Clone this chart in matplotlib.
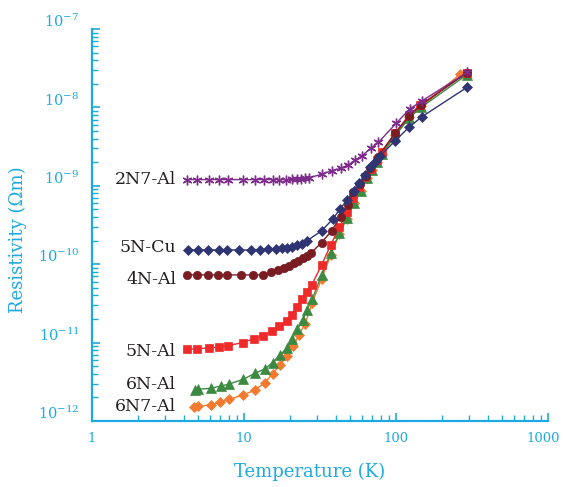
import matplotlib
matplotlib.use("Agg")
import matplotlib.pyplot as plt
import matplotlib.transforms as mtransforms
from matplotlib.ticker import LogLocator, NullFormatter

plt.rcParams['font.family'] = ['DejaVu Serif']
plt.rcParams['mathtext.fontset'] = 'dejavuserif'

# ---- data (temperature in K, resistivity in Ohm m) ----
T_2N7Al = [4.24, 4.88, 5.91, 6.88, 7.88, 9.8, 11.8, 13.6, 15.4, 17.1, 18.9, 20.6, 22.2, 23.6, 25.2, 26.9,
           32.4, 37.7, 43.4, 48.6, 53.7, 59.5, 68.5, 76.5, 100, 123, 148, 293]
R_2N7Al = [1.20e-9, 1.20e-9, 1.20e-9, 1.20e-9, 1.20e-9, 1.20e-9, 1.20e-9, 1.20e-9, 1.20e-9, 1.20e-9, 1.20e-9,
           1.21e-9, 1.22e-9, 1.23e-9, 1.25e-9, 1.27e-9,
           1.40e-9, 1.56e-9, 1.67e-9, 1.84e-9, 2.13e-9, 2.40e-9, 3.03e-9, 3.57e-9, 6.24e-9, 9.54e-9, 1.21e-8, 2.79e-8]

T_5NCu = [4.3, 5.0, 5.8, 6.8, 7.7, 9.3, 11.1, 12.7, 14.4, 16.2, 17.7, 19.1, 20.6, 22.2, 24.0, 25.9,
          32.4, 38.3, 42.8, 47.8, 52.9, 57.4, 62.5, 67.4, 72.8, 78.5, 98.5, 122, 148, 293]
R_5NCu = [1.52e-10, 1.52e-10, 1.52e-10, 1.52e-10, 1.52e-10, 1.52e-10, 1.52e-10, 1.53e-10, 1.54e-10, 1.56e-10,
          1.60e-10, 1.63e-10, 1.68e-10, 1.74e-10, 1.83e-10, 1.98e-10,
          2.67e-10, 3.74e-10, 5.06e-10, 6.59e-10, 8.6e-10, 1.08e-9, 1.37e-9, 1.72e-9, 2.03e-9, 2.40e-9,
          3.73e-9, 5.6e-9, 7.6e-9, 1.80e-8]

T_4NAl = [4.24, 4.93, 5.82, 6.77, 7.76, 9.5, 11.4, 13.3, 15.0, 16.8, 18.3, 19.9, 21.3, 22.8, 24.3, 25.9, 27.5,
          32.4, 37.7, 43.2, 48.6, 52.5, 57.8, 63.5, 67.4, 76.0, 98.5, 122, 146, 292]
R_4NAl = [7.3e-11, 7.3e-11, 7.3e-11, 7.3e-11, 7.3e-11, 7.3e-11, 7.3e-11, 7.3e-11,
          7.88e-11, 8.43e-11, 9.02e-11, 9.57e-11, 1.03e-10, 1.10e-10, 1.19e-10, 1.28e-10, 1.38e-10,
          1.89e-10, 2.67e-10, 4.03e-10, 5.77e-10, 8.3e-10, 1.05e-9, 1.33e-9, 1.67e-9, 2.35e-9,
          4.68e-9, 7.7e-9, 1.07e-8, 2.76e-8]

T_5NAl = [4.2, 4.93, 5.87, 6.88, 7.79, 9.8, 11.6, 13.4, 15.3, 17.0, 19.1, 20.6, 22.4, 24.0, 25.9, 27.9,
          32.4, 37.2, 42.4, 47.6, 52.5, 57.5, 63.0, 68.4, 74.9, 80.7, 98.5, 122, 144, 291]
R_5NAl = [8.22e-12, 8.36e-12, 8.53e-12, 8.79e-12, 9.13e-12, 1.00e-11, 1.12e-11, 1.22e-11, 1.41e-11, 1.62e-11,
          1.87e-11, 2.28e-11, 2.84e-11, 3.58e-11, 4.40e-11, 5.43e-11,
          9.77e-11, 1.76e-10, 2.98e-10, 4.67e-10, 6.99e-10, 9.66e-10, 1.28e-9, 1.65e-9, 2.13e-9, 2.72e-9,
          4.68e-9, 8.0e-9, 1.07e-8, 2.77e-8]

T_6NAl = [4.76, 5.0, 6.03, 7.03, 7.96, 9.88, 11.8, 13.7, 15.4, 17.2, 19.2, 20.8, 22.4, 24.3, 25.9, 28.1,
          32.4, 37.2, 42.4, 47.3, 52.9, 58.5, 64.2, 69.2, 75.3, 81.0, 98.5, 122, 147, 291]
R_6NAl = [2.51e-12, 2.54e-12, 2.61e-12, 2.79e-12, 2.96e-12, 3.40e-12, 4.06e-12, 4.61e-12, 5.54e-12, 6.95e-12,
          8.46e-12, 1.12e-11, 1.48e-11, 1.92e-11, 2.61e-11, 3.57e-11,
          7.28e-11, 1.38e-10, 2.48e-10, 3.85e-10, 6.04e-10, 8.71e-10, 1.25e-9, 1.59e-9, 2.03e-9, 2.55e-9,
          4.31e-9, 7.33e-9, 1.01e-8, 2.59e-8]

T_6N7Al = [4.69, 5.0, 6.03, 6.95, 8.0, 9.88, 11.8, 13.7, 15.4, 17.2, 19.2, 21.1, 23.0, 25.2,
           28.1, 32.4, 37.2, 42.4, 47.3, 52.9, 58.5, 64.2, 69.2, 75.3, 81.0, 98.5, 122, 147, 265]
R_6N7Al = [1.50e-12, 1.55e-12, 1.60e-12, 1.76e-12, 1.89e-12, 2.15e-12, 2.48e-12, 3.08e-12, 3.97e-12, 5.18e-12,
           6.75e-12, 9.05e-12, 1.25e-11, 1.73e-11,
           3.2e-11, 6.5e-11, 1.3e-10, 2.4e-10, 3.8e-10, 6.0e-10, 8.7e-10, 1.25e-9, 1.6e-9, 2.0e-9, 2.55e-9,
           4.4e-9, 7.5e-9, 1.03e-8, 2.67e-8]

labels = ["2N7-Al", "5N-Cu", "4N-Al", "5N-Al", "6N-Al", "6N7-Al"]
label_y = [1.22e-9, 1.61e-10, 6.47e-11, 7.6e-12, 2.88e-12, 1.51e-12]
label_x = 3.57

x_ticks = [1, 10, 100, 1000]
x_ticklabels = ["1", "10", "100", "1000"]
y_ticks = [1e-12, 1e-11, 1e-10, 1e-9, 1e-8, 1e-7]
y_ticklabels = [r"$10^{-12}$", r"$10^{-11}$", r"$10^{-10}$", r"$10^{-9}$", r"$10^{-8}$", r"$10^{-7}$"]

CYAN = "#1DA9E1"
TEXT = "#231F20"

series = [
    (T_6N7Al, R_6N7Al, "#F37A2F", "D", 5.2),
    (T_6NAl, R_6NAl, "#3C8A42", "^", 6.5),
    (T_5NAl, R_5NAl, "#EE2A2A", "s", 6.0),
    (T_4NAl, R_4NAl, "#7A1D22", "o", 6.0),
    (T_5NCu, R_5NCu, "#2F3572", "D", 5.2),
    (T_2N7Al, R_2N7Al, "#7E2C8C", (6, 2, 0), 7.0),
]

fig = plt.figure(figsize=(5.63, 4.87), dpi=100)
ax = fig.add_axes([92 / 563, 1 - 421 / 487, (548 - 92) / 563, (421 - 29) / 487])

for T, R, c, m, ms in series:
    ax.plot(T, R, color=c, lw=1.0, marker=m, ms=ms, mfc=c, mec=c,
            mew=1.0 if m == (6, 2, 0) else 0.5)

ax.set_xscale("log")
ax.set_yscale("log")

for s in ["top", "right"]:
    ax.spines[s].set_visible(False)
for s in ["left", "bottom"]:
    ax.spines[s].set_color(CYAN)
    ax.spines[s].set_linewidth(1.6)

# x label "10" is drawn separately below; the others are regular tick labels
ax.set_xticks(x_ticks, labels=[t if t != "10" else "" for t in x_ticklabels])
ax.set_yticks(y_ticks, labels=y_ticklabels)
ax.xaxis.set_minor_locator(LogLocator(base=10, subs=range(2, 10)))
ax.yaxis.set_minor_locator(LogLocator(base=10, subs=range(2, 10)))
ax.xaxis.set_minor_formatter(NullFormatter())
ax.yaxis.set_minor_formatter(NullFormatter())
ax.set_xlim(1, 1000)
ax.set_ylim(1e-12, 1e-7)

ax.tick_params(axis="both", which="major", direction="in", length=6, width=1.2, color=CYAN,
               labelcolor=CYAN)
ax.tick_params(axis="x", which="major", labelsize=9.5, pad=8)
ax.tick_params(axis="y", which="major", labelsize=10.5, pad=9)
ax.tick_params(axis="both", which="minor", direction="in", length=4, width=1.0, color=CYAN)

offset = mtransforms.ScaledTranslation(0, 9 / 100, fig.dpi_scale_trans)
for lab in ax.get_yticklabels():
    lab.set_transform(lab.get_transform() + offset)
xl = ax.get_xticklabels()
xl[-1].set_transform(xl[-1].get_transform() + mtransforms.ScaledTranslation(-5 / 100, 0, fig.dpi_scale_trans))

xlab_tr = mtransforms.blended_transform_factory(ax.transData, fig.transFigure)
fig.text(10, 1 - 438 / 487, "10", transform=xlab_tr, ha="center", va="center",
         fontsize=9.5, color=CYAN, zorder=20)

for lab, yv in zip(labels, label_y):
    ax.text(label_x, yv, lab, ha="right", va="center", fontsize=12.5, color=TEXT)

fig.text(310 / 563, 1 - 472 / 487, "Temperature (K)", ha="center", va="center",
         fontsize=13, color=CYAN)
fig.text(18 / 563, 1 - 240 / 487, "Resistivity (\u03a9m)", ha="center", va="center",
         rotation=90, fontsize=13, color=CYAN)

fig.savefig("out.png", dpi=100)
